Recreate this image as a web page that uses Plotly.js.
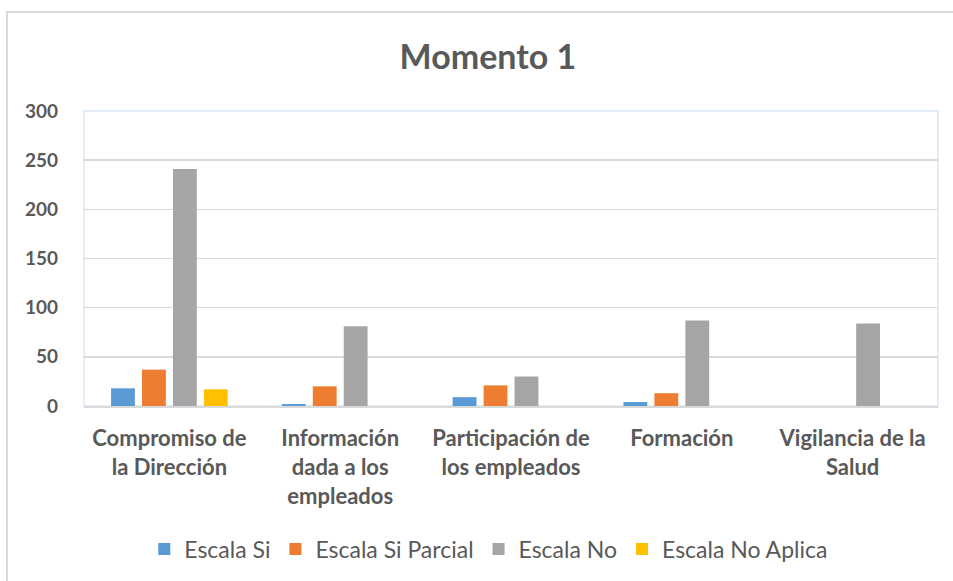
<!DOCTYPE html>
<html>
<head>
<meta charset="utf-8">
<script src="https://cdn.plot.ly/plotly-3.0.1.min.js"></script>
<style>
  html, body { margin: 0; padding: 0; background: #ffffff; overflow: hidden; }
  #frame { position: absolute; left: 6px; top: 11px; width: 1000px; height: 700px;
           border-left: 2px solid #d9d9d9; border-top: 2px solid #d9d9d9; pointer-events: none; z-index: 5; }
  #chart { position: absolute; left: 0; top: 0; width: 953px; height: 581px; }
</style>
</head>
<body>
<div id="chart"></div>
<div id="frame"></div>
<script>
const categories = [
  "Compromiso de<br>la Dirección",
  "Información<br>dada a los<br>empleados",
  "Participación de<br>los empleados",
  "Formación",
  "Vigilancia de la<br>Salud"
];
const seriesNames = ["Escala Si", "Escala Si Parcial", "Escala No", "Escala No Aplica"];
const escalaSi        = [18, 2, 9, 4, 0];
const escalaSiParcial = [37, 20, 21, 13, 0];
const escalaNo        = [241, 81, 30, 87, 84];
const escalaNoAplica  = [17, 0, 0, 0, 0];
const colors = ["#5b9bd5", "#ed7d31", "#a5a5a5", "#ffc000"];
const yTicks = [0, 50, 100, 150, 200, 250, 300];

const allValues = [escalaSi, escalaSiParcial, escalaNo, escalaNoAplica];
const traces = allValues.map((vals, i) => ({
  type: "bar",
  name: seriesNames[i],
  x: categories,
  y: vals,
  marker: { color: colors[i] },
  hoverinfo: "x+y+name"
}));

const layout = {
  width: 953,
  height: 581,
  margin: { l: 84, r: 15, t: 111, b: 175, autoexpand: false },
  paper_bgcolor: "#ffffff",
  plot_bgcolor: "#ffffff",
  font: { family: "Lato, 'Open Sans', sans-serif", color: "#595959" },
  title: {
    text: "<b>Momento 1</b>",
    font: { size: 34, color: "#595959", family: "Lato, sans-serif" },
    x: 0.512, xanchor: "center",
    y: 0.902, yanchor: "middle"
  },
  barmode: "group",
  bargap: 0.275,
  bargroupgap: 0.23,
  xaxis: {
    type: "category",
    tickfont: { size: 22, color: "#595959", family: "Lato, sans-serif", weight: "bold" },
    ticks: "",
    showline: true,
    linecolor: "#d9d9d9",
    linewidth: 2,
    showgrid: false,
    ticklabelstandoff: 12,
    automargin: false
  },
  yaxis: {
    range: [0, 300],
    tickvals: yTicks,
    ticktext: yTicks.map(String),
    tickfont: { size: 19, color: "#595959", family: "Lato, sans-serif", weight: "bold" },
    gridcolor: "#d9d9d9",
    gridwidth: 1.5,
    zeroline: false,
    showline: false,
    ticks: "",
    ticklabelstandoff: 25,
    automargin: false
  },
  legend: {
    orientation: "h",
    x: 0.474, xanchor: "center",
    y: -0.485, yanchor: "middle",
    font: { size: 23, color: "#595959", family: "Lato, sans-serif" },
    itemwidth: 30,
    traceorder: "normal"
  },
  shapes: [
    {
      type: "rect", xref: "paper", yref: "paper",
      x0: 0, x1: 1, y0: 0, y1: 1,
      line: { color: "#dbe8f5", width: 1.5 },
      layer: "below"
    }
  ],
  showlegend: true
};

Plotly.newPlot("chart", traces, layout, { displayModeBar: false, staticPlot: true });
</script>
</body>
</html>
